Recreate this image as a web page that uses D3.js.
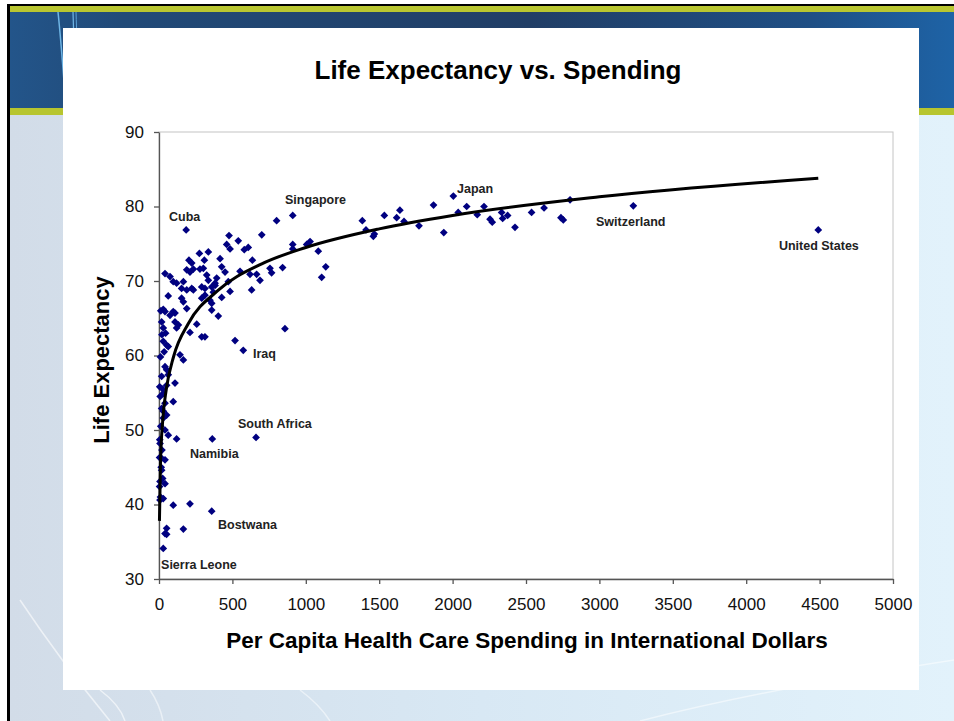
<!DOCTYPE html>
<html>
<head>
<meta charset="utf-8">
<script src="https://cdn.jsdelivr.net/npm/d3@7"></script>
<style>
  body { margin: 0; background: #fff; }
  svg { display: block; }
  text { font-family: "Liberation Sans", Arial, sans-serif; }
</style>
</head>
<body>
<svg id="chart" width="954" height="721"></svg>
<script>
// spending (international $) and life expectancy, one entry per country
const spending = [
  801, 911, 1385, 1410, 1460, 1467, 1535, 1619, 1641, 1669, 1771, 1870, 1940, 2005, 2038, 2096,
  2168, 2214, 2255, 2270, 2334, 2341, 2375, 2425, 2538, 2623, 2738, 2754, 2800, 3231, 4491,
  756, 767, 842, 911, 911, 1006, 1029, 1085, 1136, 1108, 858, 518, 574, 477, 540, 461, 484, 700,
  608, 581, 636, 552, 620, 665, 688, 631,
  185,
  275, 336, 204, 223, 309, 416, 279, 302, 189, 211, 234, 427, 450, 325, 336, 393, 382, 472,
  41, 75, 97, 120, 166, 154, 189, 223, 234, 291, 313, 359, 382, 370, 347, 359, 313, 291, 427, 484,
  63, 154, 166, 29, 41, 97, 109, 75, 189, 257, 404, 359, 18, 29, 109, 132, 120, 211, 291, 313,
  29, 52, 63, 143, 166, 41, 52, 18,
  63, 109, 52, 29, 97, 41, 18, 52, 29, 41, 63, 120, 363, 661, 7, 18, 4, 41, 18, 7, 41, 4, 29, 7,
  97, 211, 359, 166, 52, 41, 52, 29,
  10, 5, 8, 12, 5, 20, 15, 25, 10, 30, 25, 35, 20, 12, 45
];
const lifeExp = [
  78.1, 78.8, 78.1, 76.85, 76.0, 76.3, 78.8, 78.5, 79.5, 78.0, 77.4, 80.2, 76.5, 81.4, 79.2, 80.0,
  78.9, 80.0, 78.3, 77.9, 79.2, 78.4, 78.8, 77.2, 79.2, 79.8, 78.5, 78.2, 80.9, 80.1, 76.85,
  71.7, 71.1, 71.8, 74.9, 74.3, 74.9, 75.3, 74.0, 71.9, 70.5, 63.6, 62.0, 60.7, 76.1, 75.4, 74.9, 74.3, 76.2,
  74.5, 74.2, 72.8, 71.3, 70.9, 70.9, 70.1, 68.8,
  76.85,
  73.7, 73.9, 72.8, 72.4, 72.8, 73.0, 71.6, 71.7, 71.5, 71.2, 71.6, 71.9, 71.2, 70.8, 70.1, 70.4, 69.7, 69.9,
  71.0, 70.6, 69.9, 69.7, 69.9, 69.0, 68.8, 69.0, 68.8, 69.2, 69.0, 69.2, 69.4, 68.5, 67.4, 67.0, 68.1, 67.7, 67.8, 68.6,
  68.0, 67.7, 67.2, 66.2, 65.9, 65.9, 65.7, 65.4, 66.3, 64.2, 65.3, 66.1, 64.5, 63.7, 64.5, 64.1, 63.7, 63.1, 62.5, 62.5,
  61.9, 61.4, 61.2, 60.1, 59.4, 58.5, 58.1, 57.2,
  57.4, 56.3, 56.0, 54.9, 53.8, 53.6, 52.9, 52.0, 51.6, 50.0, 49.3, 48.8, 48.8, 49.0, 48.2, 46.2, 46.3, 46.0, 44.6, 43.1, 42.8, 42.4, 40.8, 40.6,
  39.9, 40.1, 39.1, 36.7, 36.8, 36.1, 36.0, 34.1,
  59.8, 55.8, 54.5, 50.5, 48.7, 47.3, 45.0, 43.5, 41.0, 52.5, 55.5, 60.5, 62.8, 66.0, 63.0
];

// logarithmic trend line
const trendX = [3, 10, 25, 50, 100, 200, 400, 700, 1000, 1500, 2000, 3000, 4491];
const trendY = [37.8, 45.4, 51.2, 55.5, 59.9, 64.3, 68.7, 72.3, 74.5, 77.0, 78.8, 81.3, 83.8];

// country labels, anchored in data units (left edge / baseline)
const labelNames = ["Cuba", "Singapore", "Iraq", "Japan", "Switzerland", "United States",
  "South Africa", "Namibia", "Bostwana", "Sierra Leone"];
const labelX = [68, 858, 640, 2030, 2977, 4223, 538, 211, 402, 14];
const labelY = [78.0, 80.3, 59.7, 81.8, 77.4, 74.2, 50.3, 46.2, 36.7, 31.3];

const xTicks = d3.range(0, 5001, 500);
const yTicks = d3.range(30, 91, 10);

const svg = d3.select("#chart");
const defs = svg.append("defs");

// slide background
let gTop = defs.append("linearGradient").attr("id", "topband");
gTop.append("stop").attr("offset", "0%").attr("stop-color", "#23558a");
gTop.append("stop").attr("offset", "12%").attr("stop-color", "#214a78");
gTop.append("stop").attr("offset", "55%").attr("stop-color", "#213e66");
gTop.append("stop").attr("offset", "85%").attr("stop-color", "#1f4f85");
gTop.append("stop").attr("offset", "100%").attr("stop-color", "#1e63a6");

let gLow = defs.append("linearGradient").attr("id", "lowband");
gLow.append("stop").attr("offset", "0%").attr("stop-color", "#d2dce8");
gLow.append("stop").attr("offset", "50%").attr("stop-color", "#d8e8f4");
gLow.append("stop").attr("offset", "100%").attr("stop-color", "#e2f2fb");

svg.append("rect").attr("x", 7).attr("y", 4).attr("width", 947).attr("height", 717).attr("fill", "#000");
svg.append("rect").attr("x", 10).attr("y", 6).attr("width", 944).attr("height", 6).attr("fill", "#b9c630");
svg.append("rect").attr("x", 10).attr("y", 12).attr("width", 944).attr("height", 96).attr("fill", "url(#topband)");
svg.append("rect").attr("x", 10).attr("y", 108).attr("width", 944).attr("height", 7).attr("fill", "#b7c52f");
svg.append("rect").attr("x", 10).attr("y", 115).attr("width", 944).attr("height", 606).attr("fill", "url(#lowband)");

// faint swoosh lines
const swoosh = svg.append("g").attr("fill", "none");
swoosh.append("path").attr("d", "M58,12 Q61,40 66,108").attr("stroke", "#6fb6e6").attr("stroke-width", 1.5);
swoosh.append("path").attr("d", "M73,12 Q74,40 76,108").attr("stroke", "#6fb6e6").attr("stroke-width", 1.2);
swoosh.append("path").attr("d", "M76,12 Q77,40 79,108").attr("stroke", "#5aa0d6").attr("stroke-width", 1);
swoosh.append("path").attr("d", "M20,600 Q60,660 110,721").attr("stroke", "#fff").attr("stroke-width", 1.5).attr("opacity", 0.6);
swoosh.append("path").attr("d", "M100,690 Q120,705 125,721").attr("stroke", "#fff").attr("stroke-width", 1.5).attr("opacity", 0.6);
swoosh.append("path").attr("d", "M150,690 Q160,705 163,721").attr("stroke", "#fff").attr("stroke-width", 1.5).attr("opacity", 0.5);
swoosh.append("path").attr("d", "M300,690 Q320,705 330,721").attr("stroke", "#fff").attr("stroke-width", 1.5).attr("opacity", 0.5);
swoosh.append("path").attr("d", "M640,721 Q760,690 954,660").attr("stroke", "#fff").attr("stroke-width", 1.5).attr("opacity", 0.5);

// white chart panel
svg.append("rect").attr("x", 63).attr("y", 28).attr("width", 856).attr("height", 662).attr("fill", "#fff");

const x = d3.scaleLinear().domain([0, 5000]).range([159, 893]);
const y = d3.scaleLinear().domain([30, 90]).range([579, 132]);

// plot area border
svg.append("rect").attr("x", x(0)).attr("y", y(90)).attr("width", x(5000) - x(0)).attr("height", y(30) - y(90))
  .attr("fill", "none").attr("stroke", "#c4c4c4").attr("stroke-width", 1);

const xAxis = svg.append("g").attr("transform", `translate(0,${y(30)})`)
  .call(d3.axisBottom(x).tickValues(xTicks).tickFormat(d3.format("d")).tickSize(5).tickPadding(14).tickSizeOuter(0));
const yAxis = svg.append("g").attr("transform", `translate(${x(0)},0)`)
  .call(d3.axisLeft(y).tickValues(yTicks).tickSize(5).tickPadding(10).tickSizeOuter(0));
[xAxis, yAxis].forEach(a => {
  a.select(".domain").attr("stroke", "#555").attr("stroke-width", 1.3);
  a.selectAll(".tick line").attr("stroke", "#555").attr("stroke-width", 1.3);
  a.selectAll(".tick text").attr("fill", "#111").style("font-size", "17px").style("font-family", "'Liberation Sans', Arial, sans-serif");
});

const pts = spending.map((s, i) => [s, lifeExp[i]]);
const trend = trendX.map((v, i) => [v, trendY[i]]);

// diamonds
svg.append("g").selectAll("path").data(pts).join("path")
  .attr("transform", d => `translate(${x(d[0])},${y(d[1])}) rotate(45)`)
  .attr("d", d3.symbol().type(d3.symbolSquare).size(30))
  .attr("fill", "#000080");

svg.append("path").datum(trend)
  .attr("d", d3.line().x(d => x(d[0])).y(d => y(d[1])).curve(d3.curveMonotoneX))
  .attr("fill", "none").attr("stroke", "#000").attr("stroke-width", 3);

svg.append("g").selectAll("text").data(labelNames).join("text")
  .attr("x", (d, i) => x(labelX[i])).attr("y", (d, i) => y(labelY[i]))
  .attr("font-size", 12.5).attr("font-weight", "bold").attr("fill", "#222")
  .text(d => d);

svg.append("text").attr("x", 498).attr("y", 79).attr("text-anchor", "middle")
  .attr("font-size", 26).attr("font-weight", "bold").attr("fill", "#000")
  .text("Life Expectancy vs. Spending");
svg.append("text").attr("x", 527).attr("y", 648).attr("text-anchor", "middle")
  .attr("font-size", 22.5).attr("font-weight", "bold").attr("fill", "#000")
  .text("Per Capita Health Care Spending in International Dollars");
svg.append("text").attr("transform", "translate(109,360) rotate(-90)").attr("text-anchor", "middle")
  .attr("font-size", 22).attr("font-weight", "bold").attr("fill", "#000")
  .text("Life Expectancy");
</script>
</body>
</html>
